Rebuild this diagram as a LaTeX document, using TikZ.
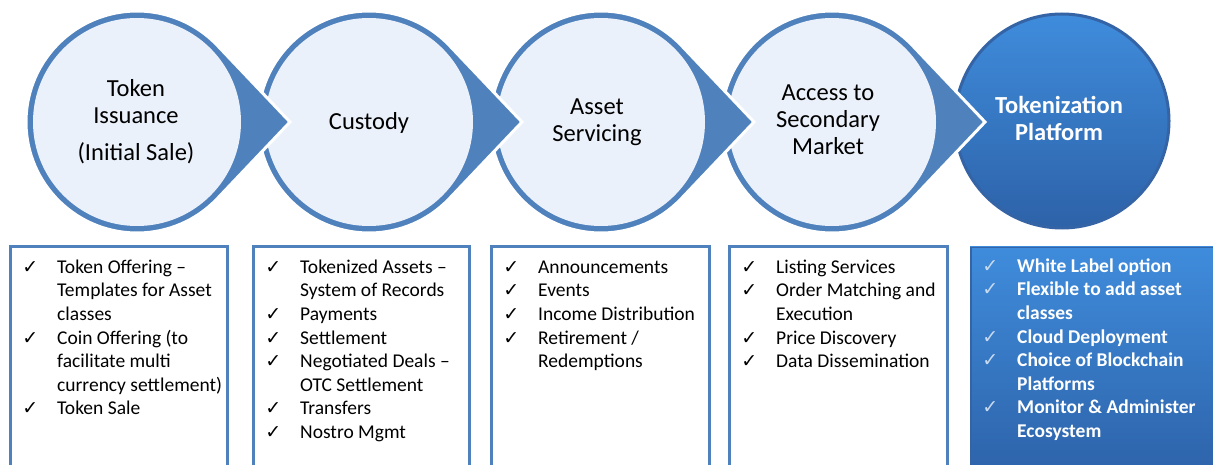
\documentclass[tikz,border=0pt]{standalone}
\usepackage{fontspec}
\setmainfont{Carlito}
\newfontfamily\djv{DejaVu Sans}
\usetikzlibrary{calc}
\definecolor{ring}{HTML}{4F81BD}
\definecolor{pale}{HTML}{EBF1FA}
\definecolor{darkA}{HTML}{3F8CDC}
\definecolor{darkB}{HTML}{2D62A8}
\definecolor{rim}{HTML}{3464A6}
\definecolor{cklight}{HTML}{C8DAF0}
\colorlet{ckcol}{black}
\newcommand\itm{\leavevmode\rule{0pt}{15pt}\llap{{\fontsize{19}{19}\djv\color{ckcol}✓}\hspace{19pt}}}
\newcommand\tear[2]{%
  \fill[ring, draw=white, line width=3pt] (#1+153,122) -- ($(#1,122)+(44:111)$)
     arc[start angle=44, end angle=316, radius=111] -- cycle;
  \node[palecirc] (#2) at (#1,122) {};
}
\tikzset{
  palecirc/.style={circle, minimum size=208pt, inner sep=0pt, fill=pale},
  ctext/.style={anchor=north, align=center, inner sep=0pt, font=\fontsize{24.5}{27}\selectfont},
  listtxt/.style={anchor=north west, align=left, inner sep=0pt, font=\fontsize{19.5}{23.6}\selectfont},
  boxline/.style={draw=ring, line width=3pt},
}
\begin{document}
\begin{tikzpicture}[x=1pt,y=-1pt]
\useasboundingbox (0,0) rectangle (1213,465);
\clip (0,0) rectangle (1213,465);
% circle 5
\node[circle, minimum size=214pt, inner sep=0pt, top color=darkA, bottom color=darkB, draw=rim, line width=3pt] (c5) at (1062,121) {};
\node[ctext, text=white, font=\fontsize{24.5}{27}\selectfont\bfseries] (t5) at (1059,94) {\rule{0pt}{19pt}Tokenization\\Platform};
% teardrops, right to left
\tear{832}{c4}
\node[ctext] (t4) at (828,81) {\rule{0pt}{19pt}Access to\\Secondary\\Market};
\tear{601}{c3}
\node[ctext] (t3) at (597,95) {\rule{0pt}{19pt}Asset\\Servicing};
\tear{369}{c2}
\node[ctext] (t2) at (369,110) {\rule{0pt}{19pt}Custody};
\tear{137}{c1}
\node[ctext] (t1) at (136,77) {\rule{0pt}{19pt}Token\\Issuance\\[10pt](Initial Sale)};
% boxes
\draw[boxline] (10,247) rectangle (227,480);
\draw[boxline] (253,247) rectangle (469,480);
\draw[boxline] (491,247) rectangle (709,480);
\draw[boxline] (729,247) rectangle (947,480);
\shade[top color=darkA, bottom color=darkB] (970,247) rectangle (1225,480);
\draw[rim, line width=1.5pt] (970.75,480) -- (970.75,247.75) -- (1225,247.75);
% lists
\node[listtxt] (l1) at (57,258) {\itm Token Offering –\\Templates for Asset\\classes\\\itm Coin Offering (to\\facilitate multi\\currency settlement)\\\itm Token Sale};
\node[listtxt] (l2) at (300,258) {\itm Tokenized Assets –\\System of Records\\\itm Payments\\\itm Settlement\\\itm Negotiated Deals –\\OTC Settlement\\\itm Transfers\\\itm Nostro Mgmt};
\node[listtxt] (l3) at (538,258) {\itm Announcements\\\itm Events\\\itm Income Distribution\\\itm Retirement /\\Redemptions};
\node[listtxt] (l4) at (776,258) {\itm Listing Services\\\itm Order Matching and\\Execution\\\itm Price Discovery\\\itm Data Dissemination};
\colorlet{ckcol}{cklight}
\node[listtxt, text=white, font=\fontsize{19.5}{23.6}\selectfont\bfseries] (l5) at (1017,257)
  {\itm White Label option\\\itm Flexible to add asset\\classes\\\itm Cloud Deployment\\\itm Choice of Blockchain\\Platforms\\\itm Monitor \& Administer\\Ecosystem};
\end{tikzpicture}
\end{document}
